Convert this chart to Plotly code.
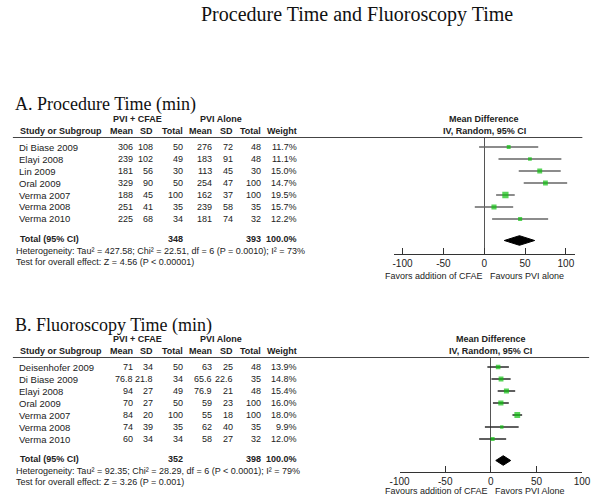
import plotly.graph_objects as go

W, H = 602, 500

# ---------------- Data: A. Procedure Time ----------------
studies_a = ["Di Biase 2009", "Elayi 2008", "Lin 2009", "Oral 2009", "Verma 2007", "Verma 2008", "Verma 2010"]
cfae_mean_a = [306, 239, 181, 329, 188, 251, 225]
cfae_sd_a = [108, 102, 56, 90, 45, 41, 68]
cfae_n_a = [50, 49, 30, 50, 100, 35, 34]
pvi_mean_a = [276, 183, 113, 254, 162, 239, 181]
pvi_sd_a = [72, 91, 45, 47, 37, 58, 74]
pvi_n_a = [48, 48, 30, 100, 100, 35, 32]
weight_a = [11.7, 11.1, 15.0, 14.7, 19.5, 15.7, 12.2]
md_a = [30, 56, 68, 75, 26, 12, 44]
lo_a = [-6.2, 17.5, 42.3, 48.4, 14.6, -11.5, 9.7]
hi_a = [66.2, 94.5, 93.7, 101.6, 37.4, 35.5, 78.3]
total_a = (348, 393)
pooled_a = (43.2, 24.6, 61.8)
het_a = "Heterogeneity: Tau² = 427.58; Chi² = 22.51, df = 6 (P = 0.0010); I² = 73%"
test_a = "Test for overall effect: Z = 4.56 (P < 0.00001)"
favor_a = "Favors addition of CFAE   Favours PVI alone"

# ---------------- Data: B. Fluoroscopy Time ----------------
studies_b = ["Deisenhofer 2009", "Di Biase 2009", "Elayi 2008", "Oral 2009", "Verma 2007", "Verma 2008", "Verma 2010"]
cfae_mean_b = [71, 76.8, 94, 70, 84, 74, 60]
cfae_sd_b = [34, 21.8, 27, 27, 20, 39, 34]
cfae_n_b = [50, 34, 49, 50, 100, 35, 34]
pvi_mean_b = [63, 65.6, 76.9, 59, 55, 62, 58]
pvi_sd_b = [25, 22.6, 21, 23, 18, 40, 27]
pvi_n_b = [48, 35, 48, 100, 100, 35, 32]
weight_b = [13.9, 14.8, 15.4, 16.0, 18.0, 9.9, 12.0]
md_b = [8, 11.2, 17.1, 11, 29, 12, 2]
lo_b = [-3.8, 0.7, 7.5, 2.3, 23.7, -6.5, -12.8]
hi_b = [19.8, 21.7, 26.7, 19.7, 34.3, 30.5, 16.8]
total_b = (352, 398)
pooled_b = (13.6, 5.4, 21.8)
het_b = "Heterogeneity: Tau² = 92.35; Chi² = 28.29, df = 6 (P < 0.0001); I² = 79%"
test_b = "Test for overall effect: Z = 3.26 (P = 0.001)"
favor_b = "Favours addition of CFAE   Favors PVI Alone"

tick_vals = [-100, -50, 0, 50, 100]
tick_text = ["-100", "-50", "0", "50", "100"]
col_headers = ["Mean", "SD", "Total", "Mean", "SD", "Total", "Weight"]

SANS = "Liberation Sans, Arial, sans-serif"
SERIF = "Liberation Serif, Times New Roman, serif"
TXT = "#222222"
GREEN = "#10c010"
NAME_FS = 9.5
NUM_FS = 9

annotations = []
shapes = []


def px_x(x):
    return x / W


def px_y(y):
    return 1 - y / H


def txt(x, y, s, anchor="left", size=9, bold=False, family=SANS, color=TXT):
    if bold:
        s = "<b>" + s + "</b>"
    annotations.append(dict(
        x=px_x(x), y=px_y(y), xref="paper", yref="paper", text=s, showarrow=False,
        xanchor=anchor, yanchor="middle", borderpad=0, borderwidth=0,
        font=dict(family=family, size=size, color=color)))


def fmt(v):
    return f"{v:g}"


# column right edges (px)
col_r = [127, 148, 179, 209, 230, 259, 296]

fig = go.Figure()

txt(358, 14, "Procedure Time and Fluoroscopy Time", anchor="center", size=20, family=SERIF, color="#111")

panels = [
    dict(row0=147, gap=20, axis_off=15, favor_off=37, title="A. Procedure Time (min)", studies=studies_a,
         cols=[cfae_mean_a, cfae_sd_a, cfae_n_a, pvi_mean_a, pvi_sd_a, pvi_n_a],
         weight=weight_a, md=md_a, lo=lo_a, hi=hi_a, total=total_a, pooled=pooled_a,
         het=het_a, test=test_a, favor=favor_a, line_end=591,
         xdom=(396.7, 583), xrange=(-110.2, 110.7), zero=489.6, ci_color="#666666"),
    dict(row0=367, gap=20, axis_off=13, favor_off=31.5, title="B. Fluoroscopy Time (min)", studies=studies_b,
         cols=[cfae_mean_b, cfae_sd_b, cfae_n_b, pvi_mean_b, pvi_sd_b, pvi_n_b],
         weight=weight_b, md=md_b, lo=lo_b, hi=hi_b, total=total_b, pooled=pooled_b,
         het=het_b, test=test_b, favor=favor_b, line_end=598,
         xdom=(402.3, 590.7), xrange=(-100, 100), zero=496.5, ci_color="#2a2a2a"),
]

ROWH = 12

for k, p in enumerate(panels):
    r0 = p["row0"]
    line_y = r0 - 9.5
    txt(5, r0 - 42, p["title"], size=18, family=SERIF, color="#111")
    # headers
    txt(132, r0 - 28, "PVI + CFAE", anchor="center", bold=True)
    txt(218, r0 - 28, "PVI Alone", anchor="center", bold=True)
    txt(p["zero"], r0 - 28, "Mean Difference", anchor="center", bold=True)
    txt(10, r0 - 16, "Study or Subgroup", bold=True)
    for xr, h in zip(col_r, col_headers):
        txt(xr, r0 - 16, h, anchor="right", bold=True)
    txt(p["zero"], r0 - 16, "IV, Random, 95% CI", anchor="center", bold=True)
    shapes.append(dict(type="line", xref="paper", yref="paper",
                       x0=px_x(3), x1=px_x(p["line_end"]), y0=px_y(line_y), y1=px_y(line_y),
                       line=dict(color="#444", width=1)))
    # rows
    for i, name in enumerate(p["studies"]):
        y = r0 + ROWH * i
        txt(9, y, name, size=NAME_FS)
        for xr, col in zip(col_r[:6], p["cols"]):
            txt(xr, y, fmt(col[i]), anchor="right", size=NUM_FS)
        txt(col_r[6], y, f"{p['weight'][i]:.1f}%", anchor="right", size=NUM_FS)
    ty = r0 + ROWH * 6 + p["gap"]
    txt(10, ty, "Total (95% CI)", bold=True)
    txt(col_r[2], ty, str(p["total"][0]), anchor="right", bold=True)
    txt(col_r[5], ty, str(p["total"][1]), anchor="right", bold=True)
    txt(col_r[6], ty, "100.0%", anchor="right", bold=True)
    txt(6, ty + 11.5, p["het"])
    txt(6, ty + 22.5, p["test"])
    txt(480, ty + p["favor_off"], p["favor"], anchor="center")

    # forest plot axes
    xa = "x" if k == 0 else "x2"
    ya = "y" if k == 0 else "y2"
    axis_y = ty + p["axis_off"]
    y_top_unit = 1 - (r0 - line_y) / ROWH
    y_bot_unit = 1 + (axis_y - r0) / ROWH
    total_unit = 1 + (ty + 1.5 - r0) / ROWH
    rows = list(range(1, len(p["studies"]) + 1))

    ci_x, ci_y = [], []
    for r, a, b in zip(rows, p["lo"], p["hi"]):
        ci_x += [a, b, None]
        ci_y += [r, r, None]
    fig.add_trace(go.Scatter(x=ci_x, y=ci_y, mode="lines", xaxis=xa, yaxis=ya,
                             line=dict(color=p["ci_color"], width=1.3), hoverinfo="skip",
                             showlegend=False))
    fig.add_trace(go.Scatter(x=p["md"], y=rows, mode="markers", xaxis=xa, yaxis=ya,
                             marker=dict(symbol="square", color=GREEN,
                                         size=[3.4 + (w - 10) * 0.3 for w in p["weight"]],
                                         line=dict(width=0)),
                             showlegend=False))
    est, plo, phi = p["pooled"]
    hh = 4.8 / ROWH
    fig.add_trace(go.Scatter(x=[plo, est, phi, est, plo],
                             y=[total_unit, total_unit - hh, total_unit, total_unit + hh, total_unit],
                             mode="lines", fill="toself", fillcolor="black",
                             line=dict(color="black", width=1), xaxis=xa, yaxis=ya,
                             showlegend=False, hoverinfo="skip"))

    xaxis = dict(domain=[px_x(p["xdom"][0]), px_x(p["xdom"][1])], range=list(p["xrange"]),
                 anchor=ya, showgrid=False, zeroline=True, zerolinecolor="#555", zerolinewidth=1,
                 showline=True, linecolor="#333", linewidth=1, ticks="inside", ticklen=6,
                 tickcolor="#333", tickvals=tick_vals, ticktext=tick_text,
                 tickfont=dict(family=SANS, size=10, color=TXT), fixedrange=True)
    yaxis = dict(domain=[px_y(axis_y), px_y(line_y)], range=[y_bot_unit, y_top_unit],
                 anchor=xa, visible=False, showgrid=False, zeroline=False, fixedrange=True)
    if k == 0:
        fig.update_layout(xaxis=xaxis, yaxis=yaxis)
    else:
        fig.update_layout(xaxis2=xaxis, yaxis2=yaxis)

fig.update_layout(width=W, height=H, autosize=False,
                  margin=dict(l=0, r=0, t=0, b=0),
                  paper_bgcolor="white", plot_bgcolor="white",
                  annotations=annotations, shapes=shapes, showlegend=False)

fig.write_html("out.html", config={"displayModeBar": False},
               post_script="document.body.style.margin='0';document.body.style.padding='0';")
